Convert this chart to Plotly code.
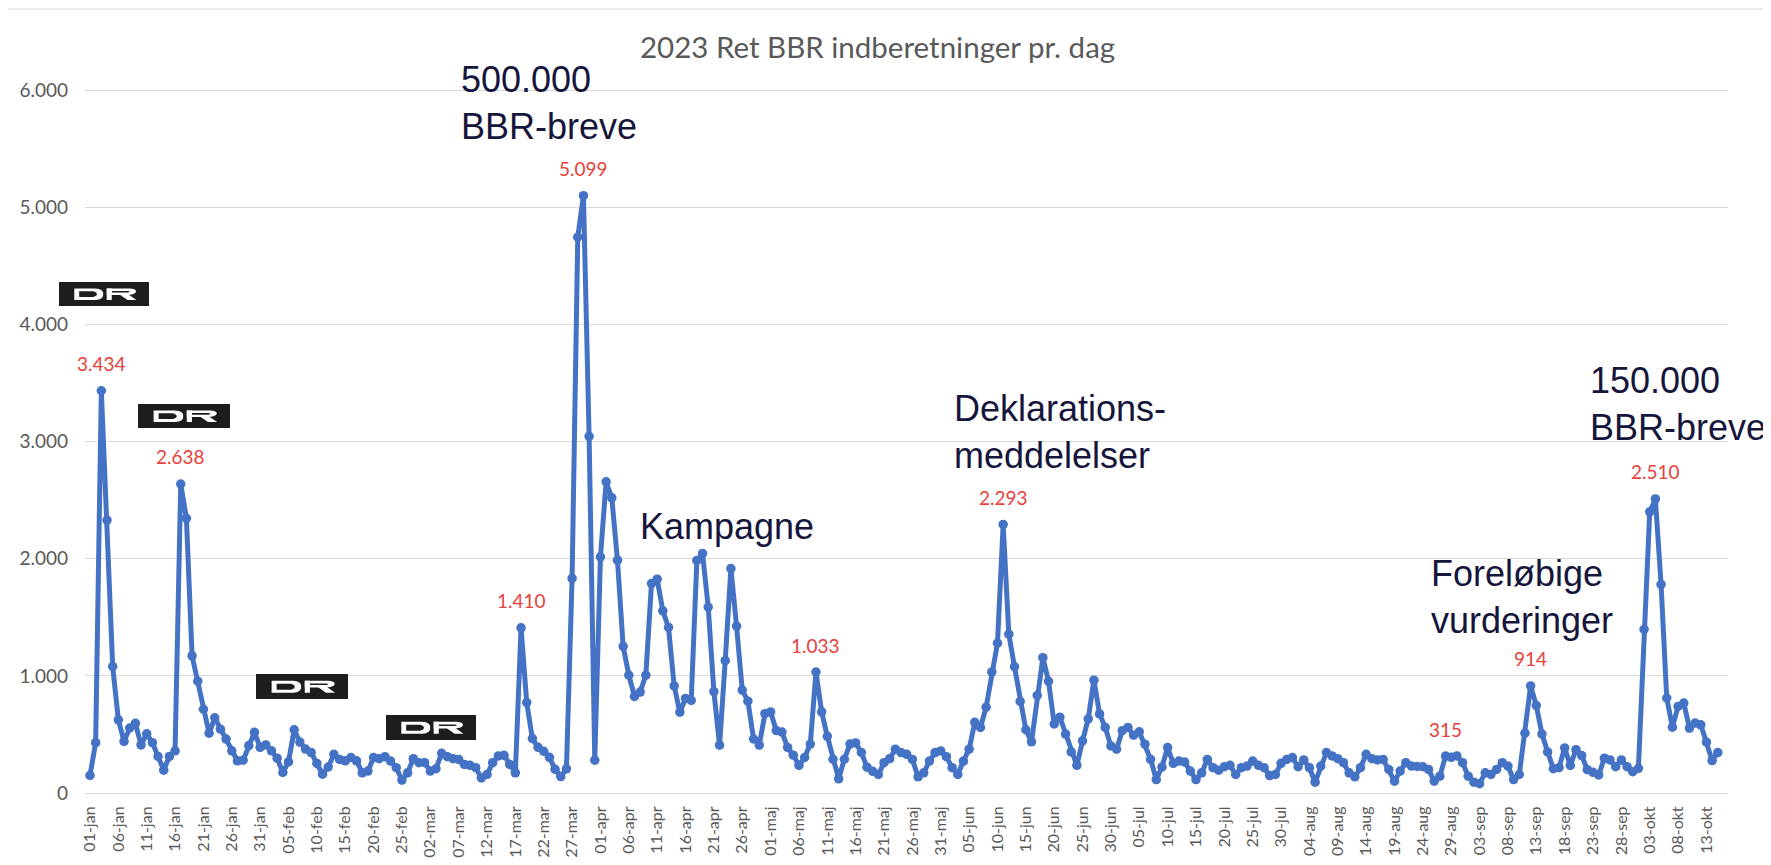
import plotly.graph_objects as go
import pandas as pd

# ---------------- data ----------------
values = [
    150, 430, 3434, 2330, 1080, 625, 440, 555, 595, 410,
    505, 430, 312, 195, 312, 360, 2638, 2345, 1170, 955,
    715, 510, 642, 545, 460, 360, 275, 280, 405, 518,
    390, 410, 360, 297, 175, 266, 540, 435, 375, 345,
    252, 160, 222, 330, 287, 275, 302, 275, 172, 187,
    302, 293, 310, 273, 216, 110, 172, 293, 259, 259,
    187, 207, 339, 310, 293, 287, 244, 236, 216, 129,
    158, 259, 316, 322, 244, 172, 1410, 772, 465, 390,
    356, 305, 202, 140, 206, 1832, 4745, 5099, 3045, 280,
    2016, 2657, 2520, 1988, 1252, 1006, 824, 862, 1006, 1788,
    1825, 1555, 1413, 914, 690, 807, 790, 1985, 2045, 1587,
    866, 408, 1130, 1916, 1424, 879, 784, 461, 409, 677,
    692, 533, 520, 389, 323, 236, 303, 418, 1033, 692,
    484, 288, 121, 288, 418, 427, 346, 220, 185, 158,
    259, 293, 374, 345, 330, 287, 138, 172, 273, 345,
    359, 310, 216, 158, 273, 374, 603, 560, 733, 1034,
    1279, 2293, 1356, 1078, 782, 540, 437, 833, 1155, 954,
    589, 647, 503, 351, 236, 445, 632, 963, 675, 560,
    402, 374, 532, 560, 494, 523, 417, 287, 115, 222,
    388, 253, 273, 264, 187, 115, 172, 287, 216, 195,
    224, 236, 158, 216, 230, 273, 236, 216, 149, 158,
    253, 287, 302, 224, 282, 216, 92, 230, 345, 316,
    293, 259, 172, 138, 216, 330, 293, 282, 287, 201,
    101, 187, 259, 230, 227, 224, 201, 101, 144, 315,
    305, 316, 259, 144, 92, 80, 172, 158, 201, 259,
    230, 115, 158, 511, 914, 747, 503, 351, 207, 216,
    385, 235, 370, 320, 199, 177, 154, 297, 282, 225,
    282, 225, 182, 211, 1396, 2400, 2510, 1781, 811, 562,
    739, 768, 554, 597, 582, 434, 277, 345,
]
start_date = "2023-01-01"
months = ["jan", "feb", "mar", "apr", "maj", "jun", "jul", "aug", "sep", "okt", "nov", "dec"]
y_ticks = [0, 1000, 2000, 3000, 4000, 5000, 6000]
label_points = [2, 16, 76, 87, 128, 161, 239, 254, 276]   # days with red value labels
title_text = "2023 Ret BBR indberetninger pr. dag"
notes = ["500.000<br>BBR-breve", "Kampagne", "Deklarations-<br>meddelelser",
         "Foreløbige<br>vurderinger", "150.000<br>BBR-breve"]


def dk(v):
    return f"{v:,}".replace(",", ".")


dates = pd.date_range(start_date, periods=len(values), freq="D")
x = list(range(len(values)))
tickvals = x[::5]
ticktext = [f"{d.day:02d}-{months[d.month - 1]}" for d in dates[::5]]

# ---------------- layout geometry (page pixels) ----------------
PAGE_W, PAGE_H = 1771, 865
OFF = 8                       # default body margin of the html page
W, H = PAGE_W - OFF, PAGE_H - OFF
L, R = 85, 1728               # plot area, page coordinates
T, B = 89, 793
PW, PH = R - L, B - T


def pp(xp, yp):
    return (xp - L) / PW, (B - yp) / PH


GRAY = "#595959"
fig = go.Figure()
fig.add_trace(go.Scatter(
    x=x, y=values, mode="lines+markers",
    line=dict(color="#4472C4", width=5),
    marker=dict(color="#4472C4", size=9.5),
    customdata=[d.strftime("%d-%m-%Y") for d in dates],
    hovertemplate="%{customdata}: %{y}<extra></extra>",
    showlegend=False,
))

annotations = []
for i in label_points:
    annotations.append(dict(
        x=x[i], y=values[i], xref="x", yref="y", text=dk(values[i]),
        showarrow=False, yshift=27, font=dict(family="Lato", size=19, color="#e8413c"),
    ))

tx, ty = pp(877, 46)
annotations.append(dict(x=tx, y=ty, xref="paper", yref="paper", text=title_text,
                        showarrow=False, xanchor="center", yanchor="middle",
                        font=dict(family="Lato", size=29.5, color=GRAY)))

note_pos = [(459, 103), (638, 526), (952, 432), (1429, 597), (1588, 404)]
for txt, (nx, ny) in zip(notes, note_pos):
    ax_, ay_ = pp(nx, ny)
    annotations.append(dict(x=ax_, y=ay_, xref="paper", yref="paper", text=txt,
                            showarrow=False, xanchor="left", yanchor="middle", align="left",
                            font=dict(family="Liberation Sans, Arial", size=36, color="#16163d")))

shapes = []
bx0, by0 = pp(7, 9)
bx1, by1 = pp(1900, 1000)
shapes.append(dict(type="rect", xref="paper", yref="paper", x0=bx0, y0=by1, x1=bx1, y1=by0,
                   line=dict(color="#d9d9d9", width=1), fillcolor="rgba(0,0,0,0)", layer="below"))


def path_from(pts, box, region):
    x0, y0, x1, y1 = box
    u0, u1, v0, v1 = region
    out = []
    for k, (a, b) in enumerate(pts):
        u = u0 + a * (u1 - u0)
        v = v0 + b * (v1 - v0)
        px_, py_ = pp(x0 + u * (x1 - x0), y0 + v * (y1 - y0))
        out.append(("M" if k == 0 else "L") + f"{px_:.5f},{py_:.5f}")
    return " ".join(out) + " Z"


D_outer = [(0, 0), (0.72, 0), (0.86, 0.05), (0.96, 0.18), (1, 0.35), (1, 0.65),
           (0.96, 0.82), (0.86, 0.95), (0.72, 1), (0, 1)]
D_inner = [(0.17, 0.25), (0.66, 0.25), (0.76, 0.36), (0.79, 0.5), (0.76, 0.64),
           (0.66, 0.75), (0.17, 0.75)]
R_stem = [(0, 0), (0.17, 0), (0.17, 1), (0, 1)]
R_bowl = [(0, 0), (0.78, 0), (0.9, 0.04), (0.97, 0.14), (0.99, 0.28), (0.95, 0.42),
          (0.85, 0.52), (0.7, 0.57), (0, 0.57)]
R_hole = [(0.17, 0.22), (0.72, 0.22), (0.79, 0.29), (0.72, 0.36), (0.17, 0.36)]
R_leg = [(0.42, 0.5), (0.72, 0.5), (1.0, 1.0), (0.70, 1.0)]

BLACK = "#1d1d1b"
dr_boxes = [(59, 282, 149, 306), (138, 404, 230, 428), (256, 674, 348, 699), (386, 715, 476, 740)]
for box in dr_boxes:
    x0, y0, x1, y1 = box
    a0, b0 = pp(x0, y1)
    a1, b1 = pp(x1, y0)
    shapes.append(dict(type="rect", xref="paper", yref="paper", x0=a0, y0=b0, x1=a1, y1=b1,
                       fillcolor=BLACK, line=dict(width=0), layer="above"))
    regD = (0.17, 0.49, 0.27, 0.75)
    regR = (0.53, 0.86, 0.27, 0.75)
    for pts, col, reg in [(D_outer, "white", regD), (D_inner, BLACK, regD),
                          (R_bowl, "white", regR), (R_hole, BLACK, regR),
                          (R_stem, "white", regR), (R_leg, "white", regR)]:
        shapes.append(dict(type="path", xref="paper", yref="paper",
                           path=path_from(pts, box, reg), fillcolor=col,
                           line=dict(width=0), layer="above"))

fig.update_layout(
    width=W, height=H,
    margin=dict(l=L - OFF, r=PAGE_W - R, t=T - OFF, b=PAGE_H - B, autoexpand=False),
    paper_bgcolor="white", plot_bgcolor="white",
    annotations=annotations, shapes=shapes,
    xaxis=dict(range=[-0.88, 288.8], tickmode="array", tickvals=tickvals, ticktext=ticktext,
               tickangle=-90, showgrid=False, zeroline=False, showline=True,
               linecolor="#d9d9d9", linewidth=1, ticks="", ticklabelstandoff=6,
               tickfont=dict(family="Lato", size=16, color=GRAY), automargin=False),
    yaxis=dict(range=[0, 6010], tickmode="array", tickvals=y_ticks,
               ticktext=[dk(v) for v in y_ticks], showgrid=True, gridcolor="#d9d9d9",
               gridwidth=1, zeroline=False, showline=False, ticks="", ticklabelstandoff=16,
               tickfont=dict(family="Lato", size=19, color=GRAY), automargin=False),
    hovermode="closest",
)

fig.write_html("out.html")
